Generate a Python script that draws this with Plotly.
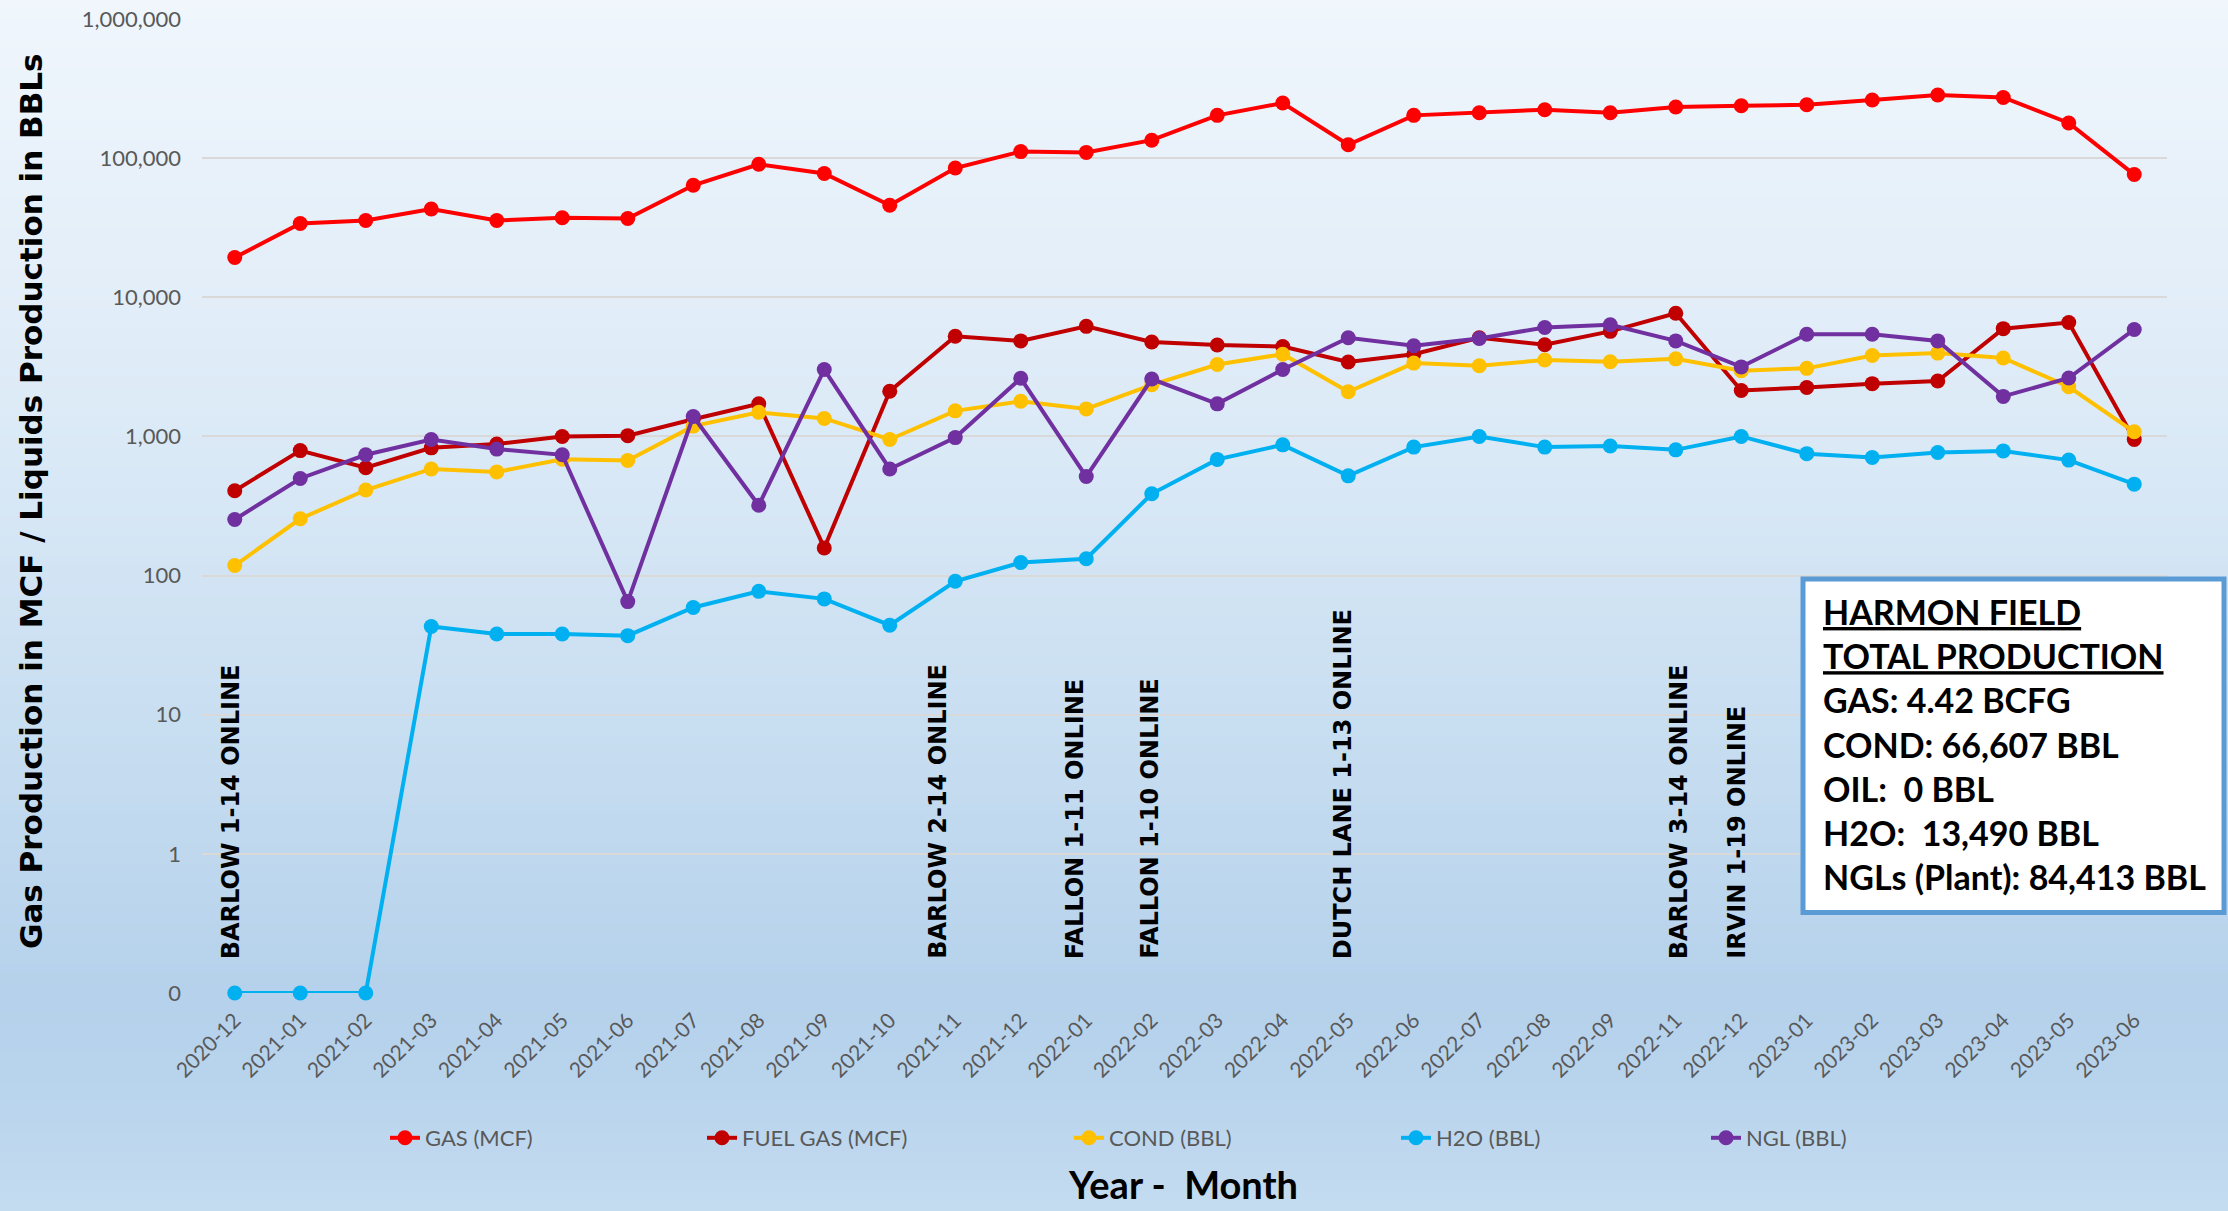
import plotly.graph_objects as go

# ---------------- data ----------------
months = ["2020-12", "2021-01", "2021-02", "2021-03", "2021-04", "2021-05", "2021-06",
          "2021-07", "2021-08", "2021-09", "2021-10", "2021-11", "2021-12", "2022-01",
          "2022-02", "2022-03", "2022-04", "2022-05", "2022-06", "2022-07", "2022-08",
          "2022-09", "2022-11", "2022-12", "2023-01", "2023-02", "2023-03", "2023-04",
          "2023-05", "2023-06"]

gas_mcf = [19300, 33900, 35600, 43100, 35600, 37300, 36800, 63800, 90300, 77600,
           45900, 84900, 111400, 110000, 134600, 203000, 249000, 124800, 203000, 212000,
           223000, 212000, 233000, 238000, 242000, 262000, 284000, 273000, 179000, 76200]

fuel_gas_mcf = [407, 791, 596, 828, 882, 1000, 1013, 1330, 1714, 158,
                2110, 5250, 4860, 6180, 4770, 4540, 4430, 3430, 3900, 5110,
                4560, 5690, 7670, 2138, 2248, 2395, 2503, 5950, 6590, 951]

cond_bbl = [118, 256, 412, 584, 556, 685, 671, 1186, 1490, 1346,
            951, 1527, 1790, 1577, 2350, 3285, 3900, 2095, 3365, 3220,
            3540, 3440, 3610, 2970, 3085, 3820, 3970, 3660, 2275, 1080]

h2o_bbl = [0, 0, 0, 43, 38, 38, 37, 59, 77, 68,
           44, 91, 124, 132, 387, 684, 870, 521, 838, 1000,
           838, 853, 801, 1000, 752, 706, 767, 787, 676, 454]

ngl_bbl = [253, 499, 738, 951, 811, 738, 65, 1390, 320, 3025,
           584, 981, 2617, 515, 2585, 1714, 3025, 5115, 4480, 5060,
           6070, 6340, 4860, 3160, 5420, 5420, 4860, 1940, 2630, 5870]

series_names = ["GAS (MCF)", "FUEL GAS (MCF)", "COND (BBL)", "H2O (BBL)", "NGL (BBL)"]

y_tickvals = [0.1, 1, 10, 100, 1000, 10000, 100000, 1000000]
y_ticktext = ["0", "1", "10", "100", "1,000", "10,000", "100,000", "1,000,000"]

event_months = ["2020-12", "2021-11", "2022-01", "2022-02", "2022-05", "2022-11", "2022-12"]
event_labels = ["BARLOW 1-14 ONLINE", "BARLOW 2-14 ONLINE", "FALLON 1-11 ONLINE",
                "FALLON 1-10 ONLINE", "DUTCH LANE 1-13 ONLINE", "BARLOW 3-14 ONLINE",
                "IRVIN 1-19 ONLINE"]

summary_lines = ["<u>HARMON FIELD</u>", "<u>TOTAL PRODUCTION</u>", "GAS: 4.42 BCFG",
                 "COND: 66,607 BBL", "OIL:\u00a0 0 BBL", "H2O:\u00a0 13,490 BBL",
                 "NGLs (Plant): 84,413 BBL"]

# ---------------- styling ----------------
W, H = 2228, 1211
ML, MR, MT, MB = 202, 61, 19, 218
PW, PH = W - ML - MR, H - MT - MB
AXIS_FLOOR = 0.1

def px_x(x):
    return (x - ML) / PW

def px_y(y):
    return (H - MB - y) / PH

colors = ["#FF0000", "#C00000", "#FFC000", "#00B0F0", "#7030A0"]
event_xshift = [-4, -18, -11, -2, -5, 3, -5]
legend_text_px = [427, 744, 1111, 1438, 1748]
TICK_GRAY = "#595959"

fig = go.Figure()

all_series = [gas_mcf, fuel_gas_mcf, cond_bbl, h2o_bbl, ngl_bbl]
legend_keys = ["legend", "legend2", "legend3", "legend4", "legend5"]
for i, (name, vals) in enumerate(zip(series_names, all_series)):
    plot_vals = [v if v > 0 else AXIS_FLOOR for v in vals]
    fig.add_trace(go.Scatter(
        x=months, y=plot_vals, name=name, mode="lines+markers",
        line=dict(color=colors[i], width=4),
        marker=dict(color=colors[i], size=15),
        customdata=vals, hovertemplate="%{x}: %{customdata:,}<extra>" + name + "</extra>",
        legend=legend_keys[i], cliponaxis=False,
    ))

# background gradient (figure-wide) built from thin strips
stops = [(0.0, (240, 246, 252)), (0.35, (220, 234, 247)), (0.6, (200, 222, 241)),
         (0.82, (181, 209, 235)), (0.92, (186, 213, 237)), (1.0, (197, 220, 240))]

def grad(t):
    for (t0, c0), (t1, c1) in zip(stops[:-1], stops[1:]):
        if t0 <= t <= t1:
            f = (t - t0) / (t1 - t0)
            return "rgb(%d,%d,%d)" % tuple(round(a + (b - a) * f) for a, b in zip(c0, c1))
    return "rgb(%d,%d,%d)" % stops[-1][1]

shapes = []
n_strips = 122
step = H / n_strips
for k in range(n_strips):
    y0 = k * step
    y1 = min(H, (k + 1) * step + 1)
    shapes.append(dict(type="rect", xref="paper", yref="paper",
                       x0=px_x(0), x1=px_x(W), y0=px_y(y1), y1=px_y(y0),
                       fillcolor=grad((k + 0.5) / n_strips), line=dict(width=0),
                       layer="below"))

# summary box
shapes.append(dict(type="rect", xref="paper", yref="paper",
                   x0=px_x(1803), x1=px_x(2224), y0=px_y(912.5), y1=px_y(579),
                   fillcolor="white", line=dict(color="#5B9BD5", width=5), layer="above"))

annotations = []
for m, lab, dx in zip(event_months, event_labels, event_xshift):
    annotations.append(dict(x=m, xref="x", y=px_y(960), yref="paper", text=lab,
                            textangle=-90, showarrow=False, xanchor="center", yanchor="bottom",
                            xshift=dx, borderpad=0,
                            font=dict(family="DejaVu Sans", size=24, color="black", weight="bold")))

annotations.append(dict(x=px_x(1822), xref="paper", y=px_y(744), yref="paper",
                        text="<br>".join(summary_lines), align="left", showarrow=False,
                        xanchor="left", yanchor="middle", borderpad=0,
                        font=dict(family="Lato", size=34, color="black", weight="bold")))

annotations.append(dict(x=px_x(31), xref="paper", y=px_y(501), yref="paper",
                        text="Gas Production in MCF / Liquids Production in BBLs",
                        textangle=-90, showarrow=False, xanchor="center", yanchor="middle",
                        font=dict(family="DejaVu Sans", size=31, color="black", weight="bold")))

annotations.append(dict(x=px_x(1183), xref="paper", y=px_y(1184), yref="paper",
                        text="Year -\u00a0 Month", showarrow=False,
                        xanchor="center", yanchor="middle",
                        font=dict(family="Lato", size=38, color="black", weight="bold")))

legend_cfg = {}
for key, tx in zip(legend_keys, legend_text_px):
    legend_cfg[key] = dict(x=px_x(tx - 42), y=px_y(1138), xanchor="left", yanchor="middle",
                           orientation="h", bgcolor="rgba(0,0,0,0)", borderwidth=0,
                           font=dict(family="Lato", size=22, color=TICK_GRAY))

fig.update_layout(
    width=W, height=H, autosize=False,
    margin=dict(l=ML, r=MR, t=MT, b=MB, pad=0, autoexpand=False),
    paper_bgcolor="rgb(197,220,240)", plot_bgcolor="rgba(0,0,0,0)",
    showlegend=True,
    shapes=shapes, annotations=annotations,
    xaxis=dict(type="category", categoryorder="array", categoryarray=months,
               range=[-0.5, len(months) - 0.5], showgrid=False, showline=False,
               zeroline=False, ticks="", tickangle=-45, automargin=False,
               ticklabelstandoff=10,
               tickfont=dict(family="Lato", size=21, color=TICK_GRAY)),
    yaxis=dict(type="log", range=[-1, 6], tickvals=y_tickvals, ticktext=y_ticktext,
               showgrid=True, gridcolor="#D9D9D9", gridwidth=2, showline=False,
               zeroline=False, ticks="", automargin=False, ticklabelstandoff=20,
               tickfont=dict(family="Lato", size=22, color=TICK_GRAY)),
    **legend_cfg,
)

fig.write_html("out.html", config={"displayModeBar": False},
               post_script="document.body.style.margin='0';document.body.style.overflow='hidden';")
